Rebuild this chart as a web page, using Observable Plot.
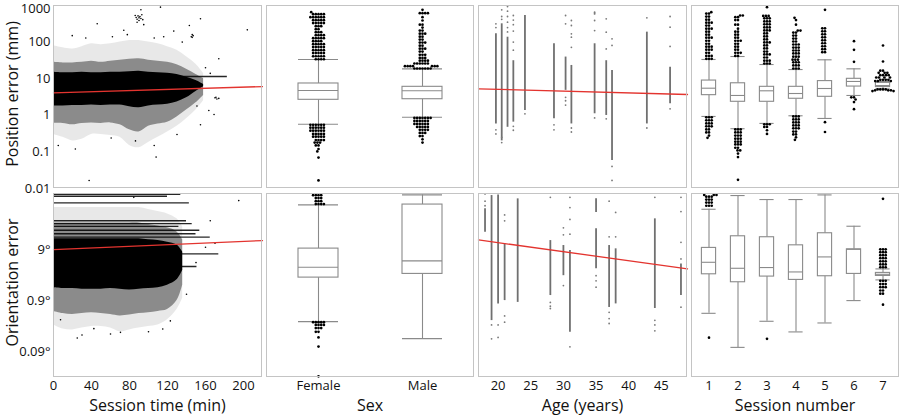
<!DOCTYPE html>
<html><head><meta charset="utf-8">
<script src="https://cdn.jsdelivr.net/npm/d3@7"></script>
<script src="https://cdn.jsdelivr.net/npm/@observablehq/plot@0.6"></script>
<style>
body{margin:0;background:#fff;}
#chart{position:relative;width:900px;height:415px;font-family:"Open Sans",sans-serif;overflow:hidden;background:#fff;}
#chart svg{position:absolute;overflow:visible;}
.frame{position:absolute;border:1.5px solid #c4c4c4;box-sizing:border-box;pointer-events:none;}
.xt{position:absolute;font-size:16px;text-align:center;line-height:18px;color:#111;}
</style></head><body><div id="chart"></div>
<script>
// ---------- axes / ticks ----------
const posTicks = [0.01, 0.1, 1, 10, 100, 1000];
const posTickLabels = ["0.01", "0.1", "1", "10", "100", "1000"];
const oriTicks = [0.09, 0.9, 9];
const oriTickLabels = ["0.09°", "0.9°", "9°"];
const posDomain = [0.01, 1000];
const oriDomain = [0.028, 113];
const timeTicks = [0, 40, 80, 120, 160, 200];
const timeDomain = [0, 220];
const ageTicks = [20, 25, 30, 35, 40, 45];
const posAgeDomain = [15, 51];
const oriAgeDomain = [17, 49];
const sexCats = ["Female", "Male"];
const sessCats = ["1", "2", "3", "4", "5", "6", "7"];
const xTitles = ["Session time (min)", "Sex", "Age (years)", "Session number"];
const yTitles = ["Position error (mm)", "Orientation error"];

// ---------- session time: point-cloud envelopes ----------
const posT = [0, 10, 20, 30, 40, 50, 60, 70, 80, 90, 100, 110, 120, 130, 140, 150, 158];
const posCoreLo = [1.8, 1.8, 1.85, 1.85, 1.9, 1.85, 1.9, 1.9, 1.7, 1.6, 1.8, 1.9, 2.0, 2.3, 3.0, 4.5, 6];
const posCoreHi = [15, 14.5, 14.5, 15, 14.5, 14.5, 15, 15, 15.5, 16, 15, 14.5, 14, 13, 11, 9, 7];
const posMidLo = [0.6, 0.6, 0.55, 0.6, 0.62, 0.6, 0.62, 0.55, 0.4, 0.35, 0.5, 0.58, 0.65, 0.9, 1.4, 2.2, 3.5];
const posMidHi = [28, 27, 27, 28, 30, 28, 30, 32, 34, 35, 32, 30, 28, 24, 18, 13, 10];
const posOutLo = [0.3, 0.25, 0.2, 0.22, 0.3, 0.3, 0.28, 0.25, 0.15, 0.13, 0.18, 0.25, 0.35, 0.5, 0.8, 1.4, 2.5];
const posOutHi = [80, 70, 65, 75, 90, 85, 90, 100, 110, 110, 100, 90, 75, 60, 40, 25, 14];
const posStreakV = [11.5];
const posStreakStart = [128];
const posStreakEnd = [183];
const posTimePts = [[86,533],[87,470],[88,420],[88,350],[89,520],[90,460],[90,390],[91,500],[92,440],[92,763],[93,560],[94,410],[95,300],
  [112.6,900],[204,216],[146,160],[145,140],[147,150],[146,135],[154.7,433],[143,284],[46,316],[19.7,150],[34,130],[62,140],[77.7,160],
  [106,130],[116,140],[126.6,200],[74,210],[135.5,100],[174,35],[163.5,1.35],[169,1.05],[5,0.15],[23,0.12],[37.5,0.0166],[108,0.072],
  [106,0.15],[86.3,0.2],[60.7,0.24],[130,0.3],[154.7,0.55],[151,1.8],[170,3.0],[172,2.8],[174,2.9],[171,3.1],[160,20],[165,14]];
const posTimeFitX = [0, 220];
const posTimeFitY = [4.1, 6.1];

const oriT = [0, 10, 20, 30, 40, 50, 60, 70, 80, 90, 100, 110, 120, 130, 136];
const oriCoreLo = [1.6, 1.55, 1.55, 1.5, 1.5, 1.5, 1.55, 1.5, 1.45, 1.5, 1.55, 1.6, 1.8, 2.3, 3.5];
const oriCoreHi = [14.6, 14.6, 14.6, 14.6, 14.6, 14.6, 14.6, 14.6, 14.6, 14.6, 14, 13.5, 12.5, 11, 8];
const oriMidLo = [0.55, 0.5, 0.48, 0.5, 0.52, 0.5, 0.48, 0.45, 0.47, 0.5, 0.52, 0.55, 0.6, 0.9, 1.8];
const oriMidHi = [30, 30, 30, 30, 30, 30, 30, 30, 30, 30, 28, 26, 24, 20, 14];
const oriOutLo = [0.3, 0.25, 0.24, 0.26, 0.28, 0.28, 0.26, 0.22, 0.24, 0.26, 0.28, 0.3, 0.38, 0.6, 1.0];
const oriOutHi = [60, 60, 60, 60, 60, 60, 60, 60, 60, 60, 55, 50, 45, 36, 25];
const oriStreakV = [109, 100, 74, 33, 29, 25.6, 21.5, 18.4, 15.8, 7.4, 4.2];
const oriStreakStart = [0, 0, 0, 0, 0, 0, 0, 0, 0, 0, 0];
const oriStreakEnd = [134, 120, 143, 140, 146, 132, 154, 150, 165, 174, 151];
const oriTimePts = [[195,82],[25,0.167],[70.5,0.215],[42.5,0.254],[7.4,0.38],[123,0.36],[165,33],[84.5,95],[60,0.2],[100,0.22],
  [140,1.2],[150,5],[160,10],[170,12],[30,0.19],[115,0.25]];
const oriTimeFitX = [0, 220];
const oriTimeFitY = [9.0, 13.5];

// ---------- age ----------
const ageCols = [18, 19, 20, 21, 23, 28, 30, 31, 35, 37, 38, 44, 48];
const posAgeLo = [0.58, 0.2, 0.47, 0.65, 1.35, 0.8, 4.8, 0.58, 1.1, 0.99, 0.058, 0.58, 2.06];
const posAgeHi = [168, 316, 136, 31, 533, 90, 39, 23, 90, 31, 16.7, 187, 20.6];
const posAgeDots = [[18,316],[18,250],[18,0.4],[18,0.31],[19,763],[19,500],[19,420],[19,0.25],[19,0.18],
  [20,939],[20,700],[20,500],[20,350],[20,250],[20,190],[21,533],[21,400],[21,300],[21,200],[21,100],[21,60],[21,0.5],[21,0.39],
  [23,1.1],[28,0.55],[28,0.4],[30,533],[30,316],[30,3.1],[30,2.5],[30,1.9],[31,389],[31,284],[31,168],[31,136],[31,72],[31,0.45],[31,0.35],
  [35,656],[35,620],[35,590],[35,389],[35,207],[35,0.85],[37,433],[37,187],[37,65],[37,0.8],[38,123],[38,81],[38,0.04],[38,0.0166],
  [44,461],[44,0.45],[48,500],[48,255],[48,76],[48,1.5]];
const posAgeFitX = [15, 51];
const posAgeFitY = [5.28, 3.7];

const oriAgeLo = [19.7, 0.365, 0.775, 0.9, 0.83, 1.13, 2.77, 0.215, 3.8, 0.66, 0.775, 0.63, 1.13];
const oriAgeHi = [56.5, 103, 106, 11.6, 88.7, 13.5, 10.8, 8.6, 22.9, 10.8, 9.3, 36, 4.7];
const oriAgeExtraAge = [35];
const oriAgeExtraLo = [48];
const oriAgeExtraHi = [88.7];
const oriAgeDots = [[18,111],[18,80],[18,65],[19,0.16],[19,0.3],[20,0.171],[20,0.3],[21,43],[21,33],[21,0.45],[21,0.34],
  [28,95],[28,0.83],[28,0.7],[28,0.63],[30,24],[30,17.5],[30,1.77],[31,95],[31,60],[31,35],[31,18],[31,0.112],
  [35,2.77],[35,2.2],[35,1.65],[37,80],[37,16],[37,0.53],[37,0.4],[37,0.32],[38,48],[38,16],
  [44,95],[44,0.37],[44,0.3],[44,0.23],[48,95],[48,50],[48,12.5],[48,5.9],[48,0.67]];
const oriAgeFitX = [17, 49];
const oriAgeFitY = [13.9, 3.77];

// ---------- sex boxes ----------
const posSexLo = [0.571, 0.887];
const posSexQ1 = [2.65, 2.75];
const posSexMed = [4.76, 4.67];
const posSexQ3 = [7.4, 6.0];
const posSexHi = [33.5, 18.6];
const posFemaleOut = [[34,4],[41,5],[50,5],[60,5],[73,5],[88,5],[106,4],[128,5],[155,4],[187,3],[226,2],[273,3],[330,5],[398,5],[481,6],[581,5],[656,1],
  [0.55,6],[0.46,6],[0.38,6],[0.31,5],[0.26,5],[0.21,4],[0.18,3],[0.15,2],[0.12,1],[0.103,1],[0.07,1],[0.0166,1]];
const posMaleOut = [[19,7],[22,7],[26,6],[31,4],[37,3],[45,3],[55,2],[66,3],[80,2],[97,3],[117,2],[141,2],[170,3],[207,2],[250,1],[300,2],[389,1],[480,1],[617,4],[763,1],
  [0.85,7],[0.7,6],[0.58,6],[0.48,5],[0.4,4],[0.33,3],[0.27,2],[0.22,1],[0.18,1]];

const oriSexLo = [0.348, 0.162];
const oriSexQ1 = [2.54, 3.0];
const oriSexMed = [4.05, 5.4];
const oriSexQ3 = [9.4, 68.6];
const oriSexHi = [67.6, 106];
const oriFemaleOut = [[70,4],[80,3],[92,3],[105,4],[0.34,5],[0.3,4],[0.26,3],[0.22,2],[0.171,1],[0.113,1],[0.0295,1]];
const oriMaleOut = [];

// ---------- session boxes ----------
const posSessLo = [0.93, 0.43, 0.6, 0.97, 0.82, 3.48, 5.3];
const posSessQ1 = [3.55, 2.34, 2.34, 2.83, 3.2, 6.1, 5.9];
const posSessMed = [5.5, 3.48, 4.67, 3.94, 5.4, 8.4, 6.5];
const posSessQ3 = [8.9, 7.5, 6.0, 6.0, 8.6, 9.93, 7.7];
const posSessHi = [33.5, 40.4, 24.4, 17.8, 32.8, 18.6, 8.4];
const posSess1Out = [[35,3],[42,3],[51,2],[62,3],[75,3],[90,2],[109,2],[132,3],[160,2],[193,2],[233,3],[282,2],[340,3],[411,2],[497,2],[600,2],[656,1],
  [0.88,3],[0.73,3],[0.6,3],[0.5,3],[0.41,2],[0.34,2],[0.28,1],[0.243,1]];
const posSess2Out = [[42,2],[51,3],[62,2],[75,2],[90,2],[109,3],[132,2],[160,2],[193,2],[233,1],[300,2],[400,2],[480,2],[533,2],
  [0.41,3],[0.34,3],[0.28,3],[0.23,3],[0.19,3],[0.16,3],[0.13,2],[0.11,2],[0.09,1],[0.072,1],[0.0173,1]];
const posSess3Out = [[26,3],[31,3],[38,2],[46,3],[55,2],[67,2],[81,2],[98,3],[118,2],[143,2],[173,2],[209,3],[252,3],[305,3],[368,3],[445,3],[520,3],[899,1],
  [0.57,3],[0.48,2],[0.39,1],[0.31,1]];
const posSess4Out = [[19,3],[23,3],[28,3],[33,3],[40,3],[49,3],[59,3],[71,3],[86,3],[104,2],[125,2],[151,2],[182,2],[207,2],[300,1],[400,1],[461,1],
  [0.93,3],[0.77,3],[0.64,3],[0.53,3],[0.44,3],[0.36,2],[0.3,2],[0.25,1],[0.214,1]];
const posSess5Out = [[53,2],[64,2],[77,2],[93,2],[112,2],[135,2],[163,2],[197,2],[238,2],[763,1],[0.65,1],[0.35,1]];
const posSess6Out = [[29,1],[61.6,1],[106,1],[3.1,2],[2.7,1],[2.3,1],[1.47,1]];
const posSess7Out = [[80.8,1],[29.5,1],[16.6,2],[14.5,3],[12.5,4],[10.8,4],[9.3,4],[8.6,3],[5.1,4],[4.8,3],[4.6,2]];

const oriSessLo = [0.507, 0.109, 0.354, 0.219, 0.328, 0.9, 2.29];
const oriSessQ1 = [2.95, 2.06, 2.66, 2.29, 2.7, 3.0, 2.74];
const oriSessMed = [5.07, 3.87, 4.0, 3.28, 6.46, 9.1, 2.95];
const oriSessQ3 = [9.7, 16.4, 15.7, 10.9, 18.8, 9.1, 3.14];
const oriSessHi = [55.5, 103, 86, 86, 106, 25.8, 3.76];
const oriSess1Out = [[65,3],[75,3],[86,3],[98,3],[106,3],[0.169,1]];
const oriSess2Out = [];
const oriSess3Out = [[0.16,1]];
const oriSess4Out = [];
const oriSess5Out = [];
const oriSess6Out = [];
const oriSess7Out = [[88.7,1],[9.1,3],[8,3],[7,3],[6.1,3],[5.3,3],[4.6,3],[4.05,3],[2.2,3],[1.9,3],[1.65,3],[1.42,2],[1.23,2],[0.75,1]];

// ---------- helpers ----------
const chart = document.getElementById("chart");
const COLX = [53, 266, 478, 691];
const COLW = [209, 208, 209, 208];
const ROWS = [{top: 5, h: 183}, {top: 193, h: 184}];
const MB = 38;
const RED = "#e3342f";
const BOXC = "#8a8a8a";

function expand(cat, pairs) {
  const out = [];
  for (const [v, n] of pairs) for (let k = 0; k < n; k++) out.push({cat, v});
  return out;
}
function stats(cats, lo, q1, med, q3, hi) {
  return cats.map((cat, i) => ({cat, lo: lo[i], q1: q1[i], med: med[i], q3: q3[i], hi: hi[i]}));
}
function yLabelMarks(row) {
  const ticks = row === 0 ? posTicks : oriTicks;
  const labels = row === 0 ? posTickLabels : oriTickLabels;
  const dom = row === 0 ? posDomain : oriDomain;
  const items = ticks.map((t, i) => ({t, s: labels[i]}));
  const o = {y: "t", text: "s", frameAnchor: "left", textAnchor: "end", dx: -3, fontSize: 13, fill: "#111"};
  return [
    Plot.text(items.filter((d) => d.t < dom[1]), o),
    Plot.text(items.filter((d) => d.t >= dom[1]), {...o, dy: 3}),
    Plot.text([yTitles[row]], {text: (d) => d, frameAnchor: "left", textAnchor: "middle", rotate: -90, dx: -41, dy: -3, fontSize: 16, fill: "#111"})
  ];
}
function addPlot(col, row, opts, marks) {
  const ml = col === 0 ? 53 : 0;
  const mb = row === 1 ? MB : 0;
  const r = ROWS[row];
  const svg = Plot.plot({
    width: ml + COLW[col], height: r.h + mb,
    marginLeft: ml, marginRight: 0, marginTop: 0, marginBottom: mb,
    style: {fontFamily: '"Open Sans", sans-serif', fontSize: "13px", color: "#111", background: "transparent", overflow: "visible"},
    y: {type: "log", domain: row === 0 ? posDomain : oriDomain, axis: null},
    ...opts,
    marks: col === 0 ? marks.concat(yLabelMarks(row)) : marks
  });
  svg.style.position = "absolute";
  svg.style.left = (col === 0 ? 0 : COLX[col]) + "px";
  svg.style.top = r.top + "px";
  chart.appendChild(svg);
  const f = document.createElement("div");
  f.className = "frame";
  Object.assign(f.style, {left: COLX[col] + "px", top: r.top + "px", width: COLW[col] + "px", height: r.h + "px"});
  chart.appendChild(f);
}
function timeMarks(T, outLo, outHi, midLo, midHi, coreLo, coreHi, sV, sS, sE, pts, fitX, fitY) {
  const env = T.map((t, i) => ({t, oLo: outLo[i], oHi: outHi[i], mLo: midLo[i], mHi: midHi[i], cLo: coreLo[i], cHi: coreHi[i]}));
  const streaks = sV.map((v, i) => ({v, s: sS[i], e: sE[i]}));
  const fit = fitX.map((x, i) => ({x, y: fitY[i]}));
  return [
    Plot.areaY(env, {x: "t", y1: "oLo", y2: "oHi", fill: "#000", fillOpacity: 0.09, curve: "catmull-rom"}),
    Plot.areaY(env, {x: "t", y1: "mLo", y2: "mHi", fill: "#000", fillOpacity: 0.4, curve: "catmull-rom"}),
    Plot.areaY(env, {x: "t", y1: "cLo", y2: "cHi", fill: "#000", curve: "catmull-rom"}),
    Plot.ruleY(streaks, {y: "v", x1: "s", x2: "e", stroke: "#000", strokeWidth: 1.4, strokeOpacity: 0.85}),
    Plot.dot(pts, {x: (d) => d[0], y: (d) => d[1], r: 0.8, fill: "#000", stroke: "none"}),
    Plot.line(fit, {x: "x", y: "y", stroke: RED, strokeWidth: 1.3})
  ];
}
function ageMarks(lo, hi, extraAge, extraLo, extraHi, dots, fitX, fitY) {
  const cols = ageCols.map((a, i) => ({a, lo: lo[i], hi: hi[i]}));
  const extra = extraAge.map((a, i) => ({a, lo: extraLo[i], hi: extraHi[i]}));
  const fit = fitX.map((x, i) => ({x, y: fitY[i]}));
  return [
    Plot.ruleX(cols.concat(extra), {x: "a", y1: "lo", y2: "hi", stroke: "#707070", strokeWidth: 1.8}),
    Plot.dot(dots, {x: (d) => d[0], y: (d) => d[1], r: 0.9, fill: "#7a7a7a", stroke: "none"}),
    Plot.line(fit, {x: "x", y: "y", stroke: RED, strokeWidth: 1.3})
  ];
}
function boxMarks(st, outs, inset) {
  const sw = 1.1;
  const mid = () => 0;
  return [
    Plot.ruleX(st, {fx: "cat", x: mid, y1: "lo", y2: "q1", stroke: BOXC, strokeWidth: sw}),
    Plot.ruleX(st, {fx: "cat", x: mid, y1: "q3", y2: "hi", stroke: BOXC, strokeWidth: sw}),
    Plot.ruleY(st, {fx: "cat", y: "lo", insetLeft: inset, insetRight: inset, stroke: BOXC, strokeWidth: sw}),
    Plot.ruleY(st, {fx: "cat", y: "hi", insetLeft: inset, insetRight: inset, stroke: BOXC, strokeWidth: sw}),
    Plot.barY(st, {fx: "cat", y1: "q1", y2: "q3", insetLeft: inset, insetRight: inset, fill: "white", stroke: BOXC, strokeWidth: sw}),
    Plot.ruleY(st, {fx: "cat", y: "med", insetLeft: inset, insetRight: inset, stroke: BOXC, strokeWidth: sw}),
    Plot.dot(outs, Plot.dodgeX({anchor: "middle", padding: 0}, {fx: "cat", y: "v", r: 1.35, fill: "#000", stroke: "none"}))
  ];
}
function xOpts(row, domain, ticks) {
  return {domain, ticks, tickSize: 0, tickPadding: 3, label: null, axis: row === 1 ? "bottom" : null};
}
function fxOpts(row, cats) {
  return {domain: cats, padding: 0, tickSize: 0, tickPadding: 3, label: null, axis: row === 1 ? "bottom" : null};
}
const boxX = {domain: [-1, 1], axis: null};

// ---------- panels ----------
addPlot(0, 0, {x: xOpts(0, timeDomain, timeTicks)},
  timeMarks(posT, posOutLo, posOutHi, posMidLo, posMidHi, posCoreLo, posCoreHi, posStreakV, posStreakStart, posStreakEnd, posTimePts, posTimeFitX, posTimeFitY));
addPlot(0, 1, {x: xOpts(1, timeDomain, timeTicks)},
  timeMarks(oriT, oriOutLo, oriOutHi, oriMidLo, oriMidHi, oriCoreLo, oriCoreHi, oriStreakV, oriStreakStart, oriStreakEnd, oriTimePts, oriTimeFitX, oriTimeFitY));

addPlot(1, 0, {fx: fxOpts(0, sexCats), x: boxX},
  boxMarks(stats(sexCats, posSexLo, posSexQ1, posSexMed, posSexQ3, posSexHi),
    [...expand("Female", posFemaleOut), ...expand("Male", posMaleOut)], 32));
addPlot(1, 1, {fx: fxOpts(1, sexCats), x: boxX},
  boxMarks(stats(sexCats, oriSexLo, oriSexQ1, oriSexMed, oriSexQ3, oriSexHi),
    [...expand("Female", oriFemaleOut), ...expand("Male", oriMaleOut)], 32));

addPlot(2, 0, {x: xOpts(0, posAgeDomain, ageTicks)},
  ageMarks(posAgeLo, posAgeHi, [], [], [], posAgeDots, posAgeFitX, posAgeFitY));
addPlot(2, 1, {x: xOpts(1, oriAgeDomain, ageTicks)},
  ageMarks(oriAgeLo, oriAgeHi, oriAgeExtraAge, oriAgeExtraLo, oriAgeExtraHi, oriAgeDots, oriAgeFitX, oriAgeFitY));

const posSessOuts = [posSess1Out, posSess2Out, posSess3Out, posSess4Out, posSess5Out, posSess6Out, posSess7Out];
const oriSessOuts = [oriSess1Out, oriSess2Out, oriSess3Out, oriSess4Out, oriSess5Out, oriSess6Out, oriSess7Out];
addPlot(3, 0, {fx: fxOpts(0, sessCats), x: boxX},
  boxMarks(stats(sessCats, posSessLo, posSessQ1, posSessMed, posSessQ3, posSessHi),
    sessCats.flatMap((c, i) => expand(c, posSessOuts[i])), 7.4));
addPlot(3, 1, {fx: fxOpts(1, sessCats), x: boxX},
  boxMarks(stats(sessCats, oriSessLo, oriSessQ1, oriSessMed, oriSessQ3, oriSessHi),
    sessCats.flatMap((c, i) => expand(c, oriSessOuts[i])), 7.4));

// ---------- x titles ----------
xTitles.forEach((t, i) => {
  const d = document.createElement("div");
  d.className = "xt";
  d.textContent = t;
  Object.assign(d.style, {left: COLX[i] + "px", width: COLW[i] + "px", top: "396px"});
  chart.appendChild(d);
});
</script></body></html>
